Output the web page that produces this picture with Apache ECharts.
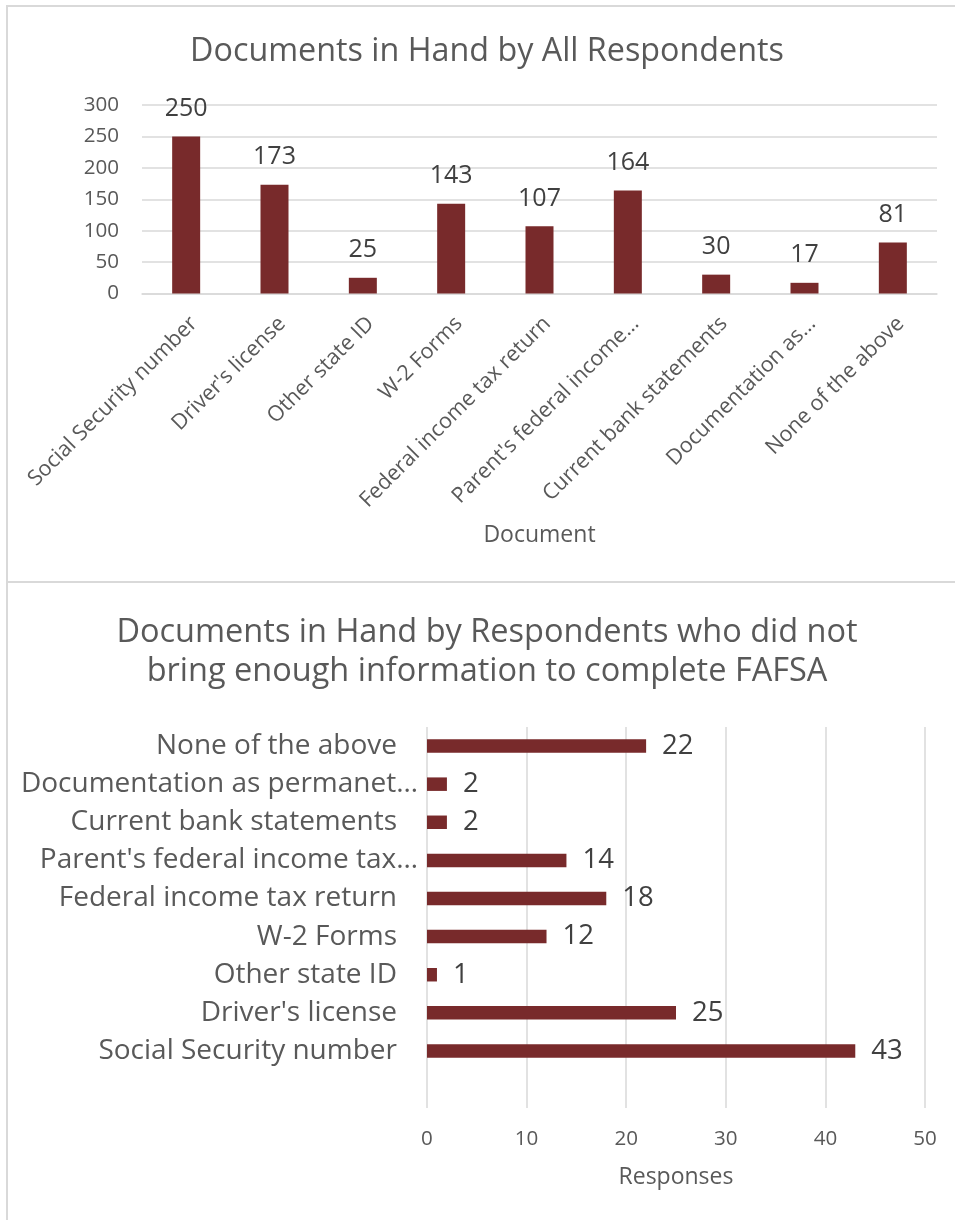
<!DOCTYPE html>
<html>
<head>
<meta charset="utf-8">
<script src="https://cdn.jsdelivr.net/npm/echarts@6/dist/echarts.min.js"></script>
<style>
  html, body { margin: 0; padding: 0; background: #ffffff; }
  #chart { width: 955px; height: 1220px; }
</style>
</head>
<body>
<div id="chart"></div>
<script>
// Survey: which documents respondents had in hand
const topTitle = 'Documents in Hand by All Respondents';
const topCategories = ['Social Security number', "Driver's license", 'Other state ID', 'W-2 Forms',
  'Federal income tax return', "Parent's federal income…", 'Current bank statements',
  'Documentation as…', 'None of the above'];
const topValues = [250, 173, 25, 143, 107, 164, 30, 17, 81];
const topAxisName = 'Document';
const topScale = { min: 0, max: 300, interval: 50 };

const bottomTitle = 'Documents in Hand by Respondents who did not\nbring enough information to complete FAFSA';
const bottomCategories = ['Social Security number', "Driver's license", 'Other state ID', 'W-2 Forms',
  'Federal income tax return', "Parent's federal income tax…", 'Current bank statements',
  'Documentation as permanet…', 'None of the above'];
const bottomValues = [43, 25, 1, 12, 18, 14, 2, 2, 22];
const bottomAxisName = 'Responses';
const bottomScale = { min: 0, max: 50, interval: 10 };

const FONT = 'Open Sans';
const BAR = '#782A2B';
const GRID = '#D9D9D9';
const TEXT = '#595959';
const LABEL = '#404040';

const chart = echarts.init(document.getElementById('chart'), null, { renderer: 'canvas' });

chart.setOption({
  animation: false,
  textStyle: { fontFamily: FONT },
  title: [
    {
      text: topTitle, left: 487, top: 36, textAlign: 'center', padding: 0,
      textStyle: { fontFamily: FONT, fontSize: 32.3, fontWeight: 'normal', color: TEXT }
    },
    {
      text: bottomTitle, left: 487, top: 613, textAlign: 'center', padding: 0,
      textStyle: { fontFamily: FONT, fontSize: 32.5, fontWeight: 'normal', color: TEXT, lineHeight: 39 }
    }
  ],
  graphic: [
    { type: 'rect', silent: true, z: -10, shape: { x: 7, y: 6, width: 1000, height: 576 },
      style: { fill: 'none', stroke: GRID, lineWidth: 2 } },
    { type: 'rect', silent: true, z: -10, shape: { x: 7, y: 582, width: 1000, height: 700 },
      style: { fill: 'none', stroke: GRID, lineWidth: 2 } }
  ],
  grid: [
    // column chart
    { left: 142, top: 105, width: 795, height: 188.5 },
    // horizontal bars: tick labels and vertical gridlines
    { left: 427, top: 727, width: 498, height: 381 },
    // horizontal bars: category bands
    { left: 427, top: 727, width: 498, height: 343 }
  ],
  xAxis: [
    {
      gridIndex: 0, type: 'category', data: topCategories,
      axisLine: { show: true, lineStyle: { color: GRID, width: 1.5 } },
      axisTick: { show: false },
      axisLabel: { rotate: 45, interval: 0, margin: 19, verticalAlign: 'top',
        fontFamily: FONT, fontSize: 21.5, color: TEXT },
      name: topAxisName, nameLocation: 'middle', nameGap: 230,
      nameTextStyle: { fontFamily: FONT, fontSize: 23, color: TEXT }
    },
    {
      gridIndex: 1, type: 'value', min: bottomScale.min, max: bottomScale.max, interval: bottomScale.interval,
      axisLine: { show: false }, axisTick: { show: false },
      splitLine: { show: true, lineStyle: { color: GRID, width: 1.5 } },
      axisLabel: { margin: 21, fontFamily: FONT, fontSize: 20.6, color: TEXT },
      name: bottomAxisName, nameLocation: 'middle', nameGap: 58,
      nameTextStyle: { fontFamily: FONT, fontSize: 23, color: TEXT }
    },
    {
      gridIndex: 2, type: 'value', min: bottomScale.min, max: bottomScale.max, interval: bottomScale.interval,
      show: false
    }
  ],
  yAxis: [
    {
      gridIndex: 0, type: 'value', min: topScale.min, max: topScale.max, interval: topScale.interval,
      axisLine: { show: false }, axisTick: { show: false },
      splitLine: { show: true, lineStyle: { color: GRID, width: 1.5 } },
      axisLabel: { margin: 23, fontFamily: FONT, fontSize: 20.6, color: TEXT }
    },
    {
      gridIndex: 1, type: 'value', show: false
    },
    {
      gridIndex: 2, type: 'category', data: bottomCategories,
      axisLine: { show: false }, axisTick: { show: false },
      axisLabel: {
        interval: 0, margin: 30, fontFamily: FONT, fontSize: 28, color: TEXT,
        // shortened names let their ellipsis run past the label column
        formatter: (v) => v.endsWith('…') ? '{e|' + v + '}' : v,
        rich: { e: { fontFamily: FONT, fontSize: 28, color: TEXT, padding: [0, -21, 0, 0] } }
      }
    }
  ],
  series: [
    {
      type: 'bar', xAxisIndex: 0, yAxisIndex: 0, data: topValues,
      barWidth: 28, itemStyle: { color: BAR },
      label: { show: true, position: 'top', distance: 15,
        fontFamily: FONT, fontSize: 25, color: LABEL }
    },
    {
      type: 'bar', xAxisIndex: 2, yAxisIndex: 2, data: bottomValues,
      barWidth: 13.5, itemStyle: { color: BAR },
      label: { show: true, position: 'right', distance: 16,
        fontFamily: FONT, fontSize: 27.5, color: LABEL }
    }
  ]
});
</script>
</body>
</html>
